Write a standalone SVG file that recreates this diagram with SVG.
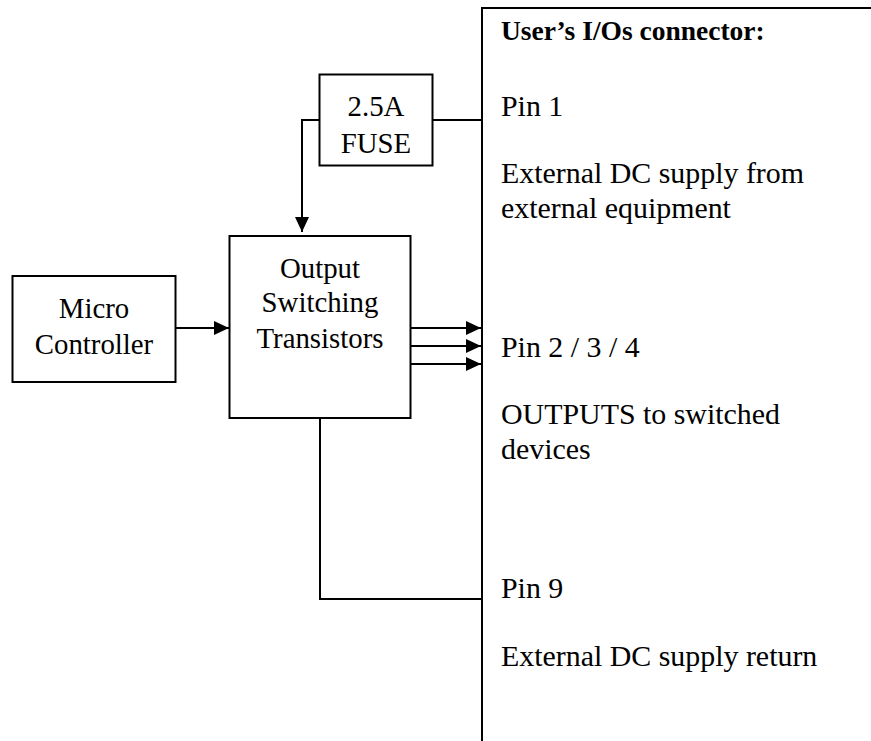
<svg xmlns="http://www.w3.org/2000/svg" width="871" height="741" viewBox="0 0 871 741">
<defs>
<style>
.box{fill:#fff;stroke:#000;stroke-width:2}
.ln{fill:none;stroke:#000;stroke-width:2}
.t{font-family:"Liberation Serif","Times New Roman",serif;font-size:28.8px;fill:#000}
.c{text-anchor:middle}
.r{font-size:29.9px}
.b{font-weight:bold;font-size:27.5px}
</style>
<marker id="ah" viewBox="0 0 15 14" refX="15" refY="7" markerWidth="15" markerHeight="14" markerUnits="userSpaceOnUse" orient="auto">
<path d="M0,0 L15,7 L0,14 Z" fill="#000"/>
</marker>
</defs>
<rect width="871" height="741" fill="#fff"/>
<g id="connectors">
<path class="ln" d="M433,120 H482"/>
<path class="ln" d="M319,120 H302 V232" marker-end="url(#ah)"/>
<path class="ln" d="M176,328 H229" marker-end="url(#ah)"/>
<path class="ln" d="M411,328 H481" marker-end="url(#ah)"/>
<path class="ln" d="M411,346 H481" marker-end="url(#ah)"/>
<path class="ln" d="M411,364 H481" marker-end="url(#ah)"/>
<path class="ln" d="M320,418 V599 H482"/>
</g>
<g id="io-connector">
<path class="ln" d="M482,741 V8 H871"/>
<text class="t b" x="501" y="40">User’s I/Os connector:</text>
<text class="t r" x="501" y="116">Pin 1</text>
<text class="t r" x="501" y="183">External DC supply from</text>
<text class="t r" x="501" y="218">external equipment</text>
<text class="t r" x="501" y="357">Pin 2 / 3 / 4</text>
<text class="t r" x="501" y="424">OUTPUTS to switched</text>
<text class="t r" x="501" y="459">devices</text>
<text class="t r" x="501" y="598">Pin 9</text>
<text class="t r" x="501" y="666">External DC supply return</text>
</g>
<g id="fuse">
<rect class="box" x="319.5" y="74.5" width="113" height="91"/>
<text class="t c" x="376" y="116">2.5A</text>
<text class="t c" x="376" y="153">FUSE</text>
</g>
<g id="micro">
<rect class="box" x="12.5" y="276" width="163" height="106"/>
<text class="t c" x="94" y="318">Micro</text>
<text class="t c" x="94" y="354">Controller</text>
</g>
<g id="transistors">
<rect class="box" x="229.5" y="236" width="181" height="182"/>
<text class="t c" x="320" y="278">Output</text>
<text class="t c" x="320" y="312">Switching</text>
<text class="t c" x="320" y="348">Transistors</text>
</g>
</svg>
